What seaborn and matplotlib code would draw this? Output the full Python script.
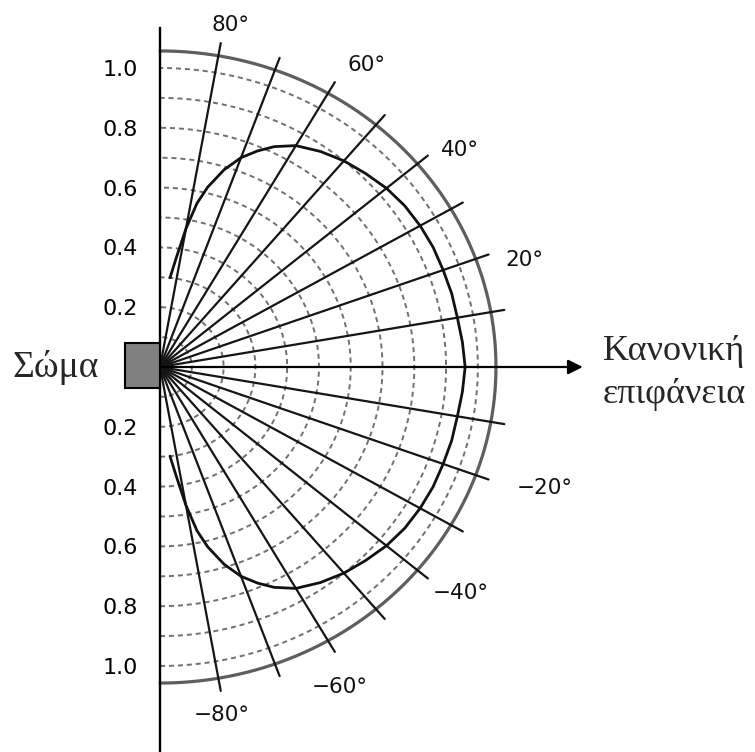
import numpy as np
import pandas as pd
import matplotlib
matplotlib.use("Agg")
import matplotlib.pyplot as plt
import seaborn as sns
from matplotlib.patches import Rectangle

# ---- data ----
curve_angles = [-84, -82, -80, -78, -76, -73, -70, -67, -64, -60, -55, -50, -45, -40, -35, -30, -25, -20, -15, -10, -5,
                0, 5, 10, 15, 20, 25, 30, 35, 40, 45, 50, 55, 60, 64, 67, 70, 73, 76, 78, 80, 82, 84]
curve_values = [0.30, 0.37, 0.47, 0.56, 0.62, 0.69, 0.745, 0.785, 0.82, 0.855, 0.88, 0.90, 0.915, 0.93, 0.94, 0.945, 0.948, 0.948, 0.95, 0.95, 0.955,
                0.96, 0.955, 0.95, 0.95, 0.948, 0.948, 0.945, 0.94, 0.93, 0.915, 0.90, 0.88, 0.855, 0.82, 0.785, 0.745, 0.69, 0.62, 0.56, 0.47, 0.37, 0.30]
ray_angles = [-80, -70, -60, -50, -40, -30, -20, -10, 10, 20, 30, 40, 50, 60, 70, 80]
label_angles = [80, 60, 40, 20, -20, -40, -60, -80]
label_texts = ["80°", "60°", "40°", "20°", "−20°", "−40°", "−60°", "−80°"]
ring_radii = [0.1, 0.2, 0.3, 0.4, 0.5, 0.6, 0.7, 0.8, 0.9, 1.0]
tick_values = [-1.0, -0.8, -0.6, -0.4, -0.2, 0.2, 0.4, 0.6, 0.8, 1.0]
tick_labels = ["1.0", "0.8", "0.6", "0.4", "0.2", "0.2", "0.4", "0.6", "0.8", "1.0"]
body_label = "Σώμα"
normal_label = ["Κανονική", "επιφάνεια"]

# layout only (label placement relative to each ray)
label_dtheta = [-0.9, -2.8, -2.4, -2.7, 1.5, 1.4, -2.2, -0.5]
label_radius = [1.165, 1.20, 1.19, 1.20, 1.277, 1.21, 1.21, 1.18]

sns.set_style("white")
plt.rcParams['font.family'] = ['DejaVu Sans']

fig = plt.figure(figsize=(7.55, 7.52), dpi=100)
ax = fig.add_axes([0, 0, 1, 1])
ax.set_xlim(-0.5035, 1.872)
ax.set_ylim(-1.2876, 1.2274)
ax.set_aspect('auto')

# dashed rings
th = np.radians(np.linspace(-90, 90, 361))
for r in ring_radii:
    ax.plot(r * np.cos(th), r * np.sin(th), color='#707070', lw=1.4,
            linestyle=(0, (2.6, 2.0)), zorder=1)
# outer ring
R_out = 1.057
ax.plot(R_out * np.cos(th), R_out * np.sin(th), color='#5e5e5e', lw=2.3, zorder=2)

# radial rays
for a in ray_angles:
    t = np.radians(a)
    ax.plot([0, 1.1 * np.cos(t)], [0, 1.1 * np.sin(t)], color='#151515', lw=1.6, zorder=3)

# angle labels
for a, s, dt, rr in zip(label_angles, label_texts, label_dtheta, label_radius):
    t = np.radians(a + dt)
    ax.text(rr * np.cos(t), rr * np.sin(t), s, ha='center', va='center', fontsize=15.5, color='#111111')

# emissivity curve
t = np.radians(curve_angles)
df = pd.DataFrame({'x': np.array(curve_values) * np.cos(t), 'y': np.array(curve_values) * np.sin(t)})
sns.lineplot(data=df, x='x', y='y', sort=False, estimator=None, color='#111111', lw=2.0, ax=ax, zorder=4)

# normal arrow
ax.annotate('', xy=(1.33, 0), xytext=(0, 0),
            arrowprops=dict(arrowstyle='-|>', lw=1.6, color='black', mutation_scale=22, shrinkA=0, shrinkB=0),
            zorder=5)

# body box
ax.add_patch(Rectangle((-0.110, -0.070), 0.110, 0.150, facecolor='#808080', edgecolor='black', lw=1.5, zorder=6))

# axis spine
for s in ['top', 'right', 'bottom']:
    ax.spines[s].set_visible(False)
ax.spines['left'].set_position(('data', 0))
ax.spines['left'].set_bounds(-1.29, 1.134)
ax.spines['left'].set_linewidth(1.7)
ax.spines['left'].set_color('black')
ax.set_xticks([])
ax.set_yticks(tick_values)
ax.set_yticklabels(tick_labels)
ax.tick_params(axis='y', direction='out', length=12, width=1.6, pad=4, labelsize=16, colors='black')
ax.set_xlabel('')
ax.set_ylabel('')

# texts
ax.text(-0.328, -0.033, body_label, ha='center', va='baseline', fontsize=27, family=['Liberation Serif'])
ax.text(1.394, 0.023, normal_label[0], ha='left', va='baseline', fontsize=26, family=['Liberation Serif'])
ax.text(1.394, -0.120, normal_label[1], ha='left', va='baseline', fontsize=26, family=['Liberation Serif'])

fig.savefig('out.png', dpi=100)
